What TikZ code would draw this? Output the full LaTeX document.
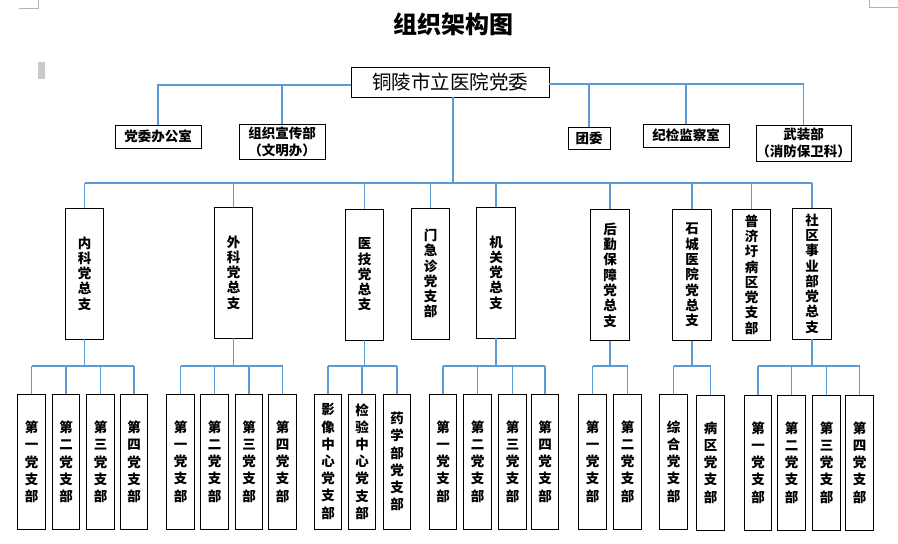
\documentclass[tikz,border=0pt]{standalone}
\usepackage{fontspec}
\setmainfont{Noto Sans CJK SC}
\definecolor{lineblue}{HTML}{5B9BD5}
\definecolor{markgray}{HTML}{B4B4B4}
\begin{document}
\begin{tikzpicture}[x=1pt,y=-1pt,
  conn/.style={draw=lineblue, line width=1.1pt},
  obox/.style={draw=black, line width=0.9pt, inner sep=0pt, align=center,
    font=\bfseries\fontsize{13.5}{17}\selectfont},
  vbox/.style={draw=black, line width=0.9pt, inner sep=0pt, align=center,
    minimum width=38.5pt, minimum height=131pt,
    font=\bfseries\fontsize{13.5}{15.3}\selectfont},
  sbox/.style={draw=black, line width=0.9pt, inner sep=0pt, align=center,
    minimum width=27.5pt, minimum height=135pt,
    font=\bfseries\fontsize{13.5}{17.2}\selectfont},
  pmark/.style={draw=markgray, line width=0.8pt}]
\useasboundingbox (0,0) rectangle (898,544);
% page marks
\draw[pmark] (19,8) -- (38,8) -- (38,0);
\draw[pmark] (869,0) -- (869,7.5) -- (898,7.5);
\fill[markgray!70] (38,62) rectangle (45,79);
% title
\node[font=\bfseries\fontsize{24}{25}\selectfont] (title) at (453,24) {组织架构图};
% root
\node[obox, minimum width=198pt, minimum height=30pt, font=\fontsize{19.5}{20}\selectfont] (root) at (450,82) {铜陵市立医院党委};
% level 1 offices
\node[obox, minimum width=86pt, minimum height=23pt] (ob1) at (158,136.5) {党委办公室};
\node[obox, minimum width=86pt, minimum height=35pt] (ob2) at (282,141.5) {组织宣传部\\（文明办）};
\node[obox, minimum width=42pt, minimum height=22pt] (ob3) at (589,138) {团委};
\node[obox, minimum width=86pt, minimum height=23pt] (ob4) at (686,135.5) {纪检监察室};
\node[obox, minimum width=95pt, minimum height=36pt] (ob5) at (803.5,143) {武装部\\（消防保卫科）};
\coordinate (b1) at (0,85);
\coordinate (b1r) at (0,84);
\draw[conn] (root.west |- b1) -| (ob1.north);
\draw[conn] (ob2.north) -- (ob2.north |- b1);
\draw[conn] (root.east |- b1r) -| (ob5.north);
\draw[conn] (ob3.north) -- (ob3.north |- b1r);
\draw[conn] (ob4.north) -- (ob4.north |- b1r);
% level 2
\node[vbox] (L1) at (84.5,273.5) {内\\科\\党\\总\\支};
\node[vbox] (L2) at (233.5,272.5) {外\\科\\党\\总\\支};
\node[vbox] (L3) at (364.5,274.5) {医\\技\\党\\总\\支};
\node[vbox] (L4) at (430.5,273.5) {门\\急\\诊\\党\\支\\部};
\node[vbox] (L5) at (496,272.5) {机\\关\\党\\总\\支};
\node[vbox] (L6) at (610,275) {后\\勤\\保\\障\\党\\总\\支};
\node[vbox] (L7) at (692,275) {石\\城\\医\\院\\党\\总\\支};
\node[vbox] (L8) at (751.5,274.5) {普\\济\\圩\\病\\区\\党\\支\\部};
\node[vbox] (L9) at (812,273.5) {社\\区\\事\\业\\部\\党\\总\\支};
\coordinate (b2) at (0,183);
\draw[conn] ([xshift=3pt]root.south) -- ([xshift=3pt]root.south |- b2);
\draw[conn] (L1.north |- b2) -- (L9.north |- b2);
\foreach \n in {L1,L2,L3,L4,L5,L6,L7,L8,L9}
  \draw[conn] (\n.north) -- (\n.north |- b2);
% level 3
\node[sbox] (n1) at (31.5,462) {第\\一\\党\\支\\部};
\node[sbox] (n2) at (66,462) {第\\二\\党\\支\\部};
\node[sbox] (n3) at (100.5,462) {第\\三\\党\\支\\部};
\node[sbox] (n4) at (134,462) {第\\四\\党\\支\\部};
\node[sbox] (w1) at (180.5,461.5) {第\\一\\党\\支\\部};
\node[sbox] (w2) at (214.5,461.5) {第\\二\\党\\支\\部};
\node[sbox] (w3) at (249,461.5) {第\\三\\党\\支\\部};
\node[sbox] (w4) at (282.5,461.5) {第\\四\\党\\支\\部};
\node[sbox] (y1) at (328,461.5) {影\\像\\中\\心\\党\\支\\部};
\node[sbox] (y2) at (362,461.5) {检\\验\\中\\心\\党\\支\\部};
\node[sbox] (y3) at (397,461.5) {药\\学\\部\\党\\支\\部};
\node[sbox] (j1) at (443,461.5) {第\\一\\党\\支\\部};
\node[sbox] (j2) at (477.5,461.5) {第\\二\\党\\支\\部};
\node[sbox] (j3) at (512.5,461.5) {第\\三\\党\\支\\部};
\node[sbox] (j4) at (545,461.5) {第\\四\\党\\支\\部};
\node[sbox] (h1) at (592.5,461.5) {第\\一\\党\\支\\部};
\node[sbox] (h2) at (627.5,461.5) {第\\二\\党\\支\\部};
\node[sbox] (s1) at (673.5,461.5) {综\\合\\党\\支\\部};
\node[sbox] (s2) at (710.5,462.5) {病\\区\\党\\支\\部};
\node[sbox] (q1) at (758,462.5) {第\\一\\党\\支\\部};
\node[sbox] (q2) at (791.5,462.5) {第\\二\\党\\支\\部};
\node[sbox] (q3) at (826.5,462.5) {第\\三\\党\\支\\部};
\node[sbox] (q4) at (859.5,462.5) {第\\四\\党\\支\\部};
\coordinate (b3) at (0,366);
\foreach \p/\a/\z/\kids in {L1/n1/n4/{n1,n2,n3,n4}, L2/w1/w4/{w1,w2,w3,w4}, L3/y1/y3/{y1,y2,y3}, L5/j1/j4/{j1,j2,j3,j4}, L6/h1/h2/{h1,h2}, L7/s1/s2/{s1,s2}, L9/q1/q4/{q1,q2,q3,q4}} {
  \draw[conn] (\p.south) -- (\p.south |- b3);
  \draw[conn] (\a.north |- b3) -- (\z.north |- b3);
  \foreach \k in \kids
    \draw[conn] (\k.north) -- (\k.north |- b3);
}
\end{tikzpicture}
\end{document}
